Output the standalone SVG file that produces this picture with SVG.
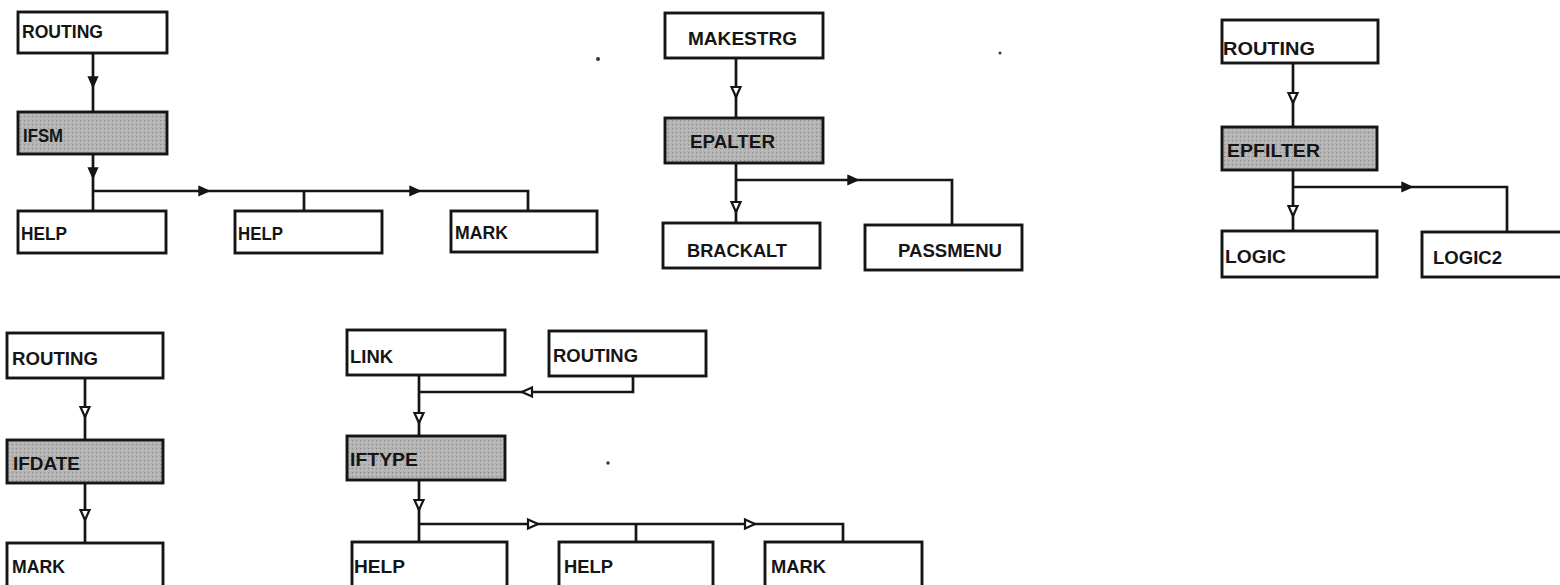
<svg xmlns="http://www.w3.org/2000/svg" xmlns:xlink="http://www.w3.org/1999/xlink" width="1560" height="585" viewBox="0 0 1560 585">
<style>
.box{fill:#fff;stroke:#151515;stroke-width:2.9}
.sh{stroke:#151515;stroke-width:2.9}
.lbl{font-family:"Liberation Sans",Arial,sans-serif;font-weight:bold;font-size:19px;fill:#151515}
.ln{fill:none;stroke:#151515;stroke-width:2.7}
.af{fill:#151515;stroke:#151515;stroke-width:1.4}
.ah{fill:#fff;stroke:#151515;stroke-width:2.2}
</style>
<defs>
<path id="ar" d="M-5,-4.5 L5,0 L-5,4.5 Z"/>
<pattern id="stip" width="4" height="4" patternUnits="userSpaceOnUse">
<rect width="4" height="4" fill="#b3b3b3"/>
<rect x="0" y="0" width="1" height="1" fill="#8a8a8a"/>
<rect x="2" y="2" width="1" height="1" fill="#cfcfcf"/>
</pattern>
</defs>
<rect width="1560" height="585" fill="#fff"/>

<g id="connectors">
<!-- group 1 -->
<path class="ln" d="M93,53 V112 M93,154 V211 M93,191 H528 V211 M304,191 V211"/>
<use href="#ar" class="af" transform="translate(93,82) rotate(90)"/>
<use href="#ar" class="af" transform="translate(93,173) rotate(90)"/>
<use href="#ar" class="af" transform="translate(204,191)"/>
<use href="#ar" class="af" transform="translate(415,191)"/>
<!-- group 2 -->
<path class="ln" d="M736,58 V118 M736,163 V223 M736,180 H952 V225"/>
<use href="#ar" class="ah" transform="translate(736,92) rotate(90)"/>
<use href="#ar" class="ah" transform="translate(736,207) rotate(90)"/>
<use href="#ar" class="af" transform="translate(853,180)"/>
<!-- group 3 -->
<path class="ln" d="M1293,63 V127 M1293,170 V231 M1293,187 H1507 V232"/>
<use href="#ar" class="ah" transform="translate(1293,98) rotate(90)"/>
<use href="#ar" class="ah" transform="translate(1293,211) rotate(90)"/>
<use href="#ar" class="af" transform="translate(1407,187)"/>
<!-- group 4 -->
<path class="ln" d="M85,378 V440 M85,483 V543"/>
<use href="#ar" class="ah" transform="translate(85,412) rotate(90)"/>
<use href="#ar" class="ah" transform="translate(85,515) rotate(90)"/>
<!-- group 5 -->
<path class="ln" d="M419,375 V436 M633,376 V392 H419 M419,480 V542 M419,524 H843 V542 M636,524 V542"/>
<use href="#ar" class="ah" transform="translate(419,418) rotate(90)"/>
<use href="#ar" class="ah" transform="translate(527,392) rotate(180)"/>
<use href="#ar" class="ah" transform="translate(419,505) rotate(90)"/>
<use href="#ar" class="ah" transform="translate(533,524)"/>
<use href="#ar" class="ah" transform="translate(750,524)"/>
</g>

<!-- group 1 nodes -->
<g id="g1-routing"><rect class="box" x="18" y="12" width="149" height="41"/><text class="lbl" x="22" y="38" textLength="81" lengthAdjust="spacingAndGlyphs">ROUTING</text></g>
<g id="g1-ifsm"><rect class="sh" x="18" y="112" width="149" height="42" style="fill:url(#stip)"/><text class="lbl" x="23" y="142" textLength="40" lengthAdjust="spacingAndGlyphs">IFSM</text></g>
<g id="g1-help1"><rect class="box" x="18" y="211" width="148" height="42"/><text class="lbl" x="21" y="240" textLength="46" lengthAdjust="spacingAndGlyphs">HELP</text></g>
<g id="g1-help2"><rect class="box" x="235" y="211" width="147" height="42"/><text class="lbl" x="238" y="240" textLength="45" lengthAdjust="spacingAndGlyphs">HELP</text></g>
<g id="g1-mark"><rect class="box" x="451" y="211" width="146" height="41"/><text class="lbl" x="455" y="239" textLength="53" lengthAdjust="spacingAndGlyphs">MARK</text></g>

<!-- group 2 nodes -->
<g id="g2-makestrg"><rect class="box" x="665" y="13" width="158" height="45"/><text class="lbl" x="688" y="45" textLength="109" lengthAdjust="spacingAndGlyphs">MAKESTRG</text></g>
<g id="g2-epalter"><rect class="sh" x="665" y="118" width="158" height="45" style="fill:url(#stip)"/><text class="lbl" x="690" y="148" textLength="85" lengthAdjust="spacingAndGlyphs">EPALTER</text></g>
<g id="g2-brackalt"><rect class="box" x="663" y="223" width="157" height="45"/><text class="lbl" x="687" y="257" textLength="100" lengthAdjust="spacingAndGlyphs">BRACKALT</text></g>
<g id="g2-passmenu"><rect class="box" x="865" y="225" width="157" height="45"/><text class="lbl" x="898" y="257" textLength="104" lengthAdjust="spacingAndGlyphs">PASSMENU</text></g>

<!-- group 3 nodes -->
<g id="g3-routing"><rect class="box" x="1222" y="20" width="156" height="43"/><text class="lbl" x="1223" y="55" textLength="92" lengthAdjust="spacingAndGlyphs">ROUTING</text></g>
<g id="g3-epfilter"><rect class="sh" x="1222" y="127" width="155" height="43" style="fill:url(#stip)"/><text class="lbl" x="1227" y="157" textLength="93" lengthAdjust="spacingAndGlyphs">EPFILTER</text></g>
<g id="g3-logic"><rect class="box" x="1222" y="231" width="155" height="46"/><text class="lbl" x="1225" y="263" textLength="61" lengthAdjust="spacingAndGlyphs">LOGIC</text></g>
<g id="g3-logic2"><rect class="box" x="1422" y="232" width="160" height="45"/><text class="lbl" x="1433" y="264" textLength="69" lengthAdjust="spacingAndGlyphs">LOGIC2</text></g>

<!-- group 4 nodes -->
<g id="g4-routing"><rect class="box" x="7" y="333" width="156" height="45"/><text class="lbl" x="12" y="365" textLength="86" lengthAdjust="spacingAndGlyphs">ROUTING</text></g>
<g id="g4-ifdate"><rect class="sh" x="7" y="440" width="156" height="43" style="fill:url(#stip)"/><text class="lbl" x="13" y="470" textLength="67" lengthAdjust="spacingAndGlyphs">IFDATE</text></g>
<g id="g4-mark"><rect class="box" x="7" y="543" width="156" height="60"/><text class="lbl" x="12" y="573" textLength="53" lengthAdjust="spacingAndGlyphs">MARK</text></g>

<!-- group 5 nodes -->
<g id="g5-link"><rect class="box" x="347" y="330" width="158" height="45"/><text class="lbl" x="350" y="363" textLength="43" lengthAdjust="spacingAndGlyphs">LINK</text></g>
<g id="g5-routing"><rect class="box" x="549" y="331" width="157" height="45"/><text class="lbl" x="553" y="362" textLength="85" lengthAdjust="spacingAndGlyphs">ROUTING</text></g>
<g id="g5-iftype"><rect class="sh" x="347" y="436" width="158" height="44" style="fill:url(#stip)"/><text class="lbl" x="350" y="466" textLength="68" lengthAdjust="spacingAndGlyphs">IFTYPE</text></g>
<g id="g5-help1"><rect class="box" x="352" y="542" width="155" height="60"/><text class="lbl" x="354" y="573" textLength="51" lengthAdjust="spacingAndGlyphs">HELP</text></g>
<g id="g5-help2"><rect class="box" x="559" y="542" width="154" height="60"/><text class="lbl" x="564" y="573" textLength="49" lengthAdjust="spacingAndGlyphs">HELP</text></g>
<g id="g5-mark"><rect class="box" x="765" y="542" width="157" height="60"/><text class="lbl" x="771" y="573" textLength="55" lengthAdjust="spacingAndGlyphs">MARK</text></g>

<g id="specks" fill="#333">
<circle cx="598" cy="59" r="2"/>
<circle cx="1000" cy="53" r="1.5"/>
<circle cx="608" cy="463" r="1.7"/>
</g>
</svg>
